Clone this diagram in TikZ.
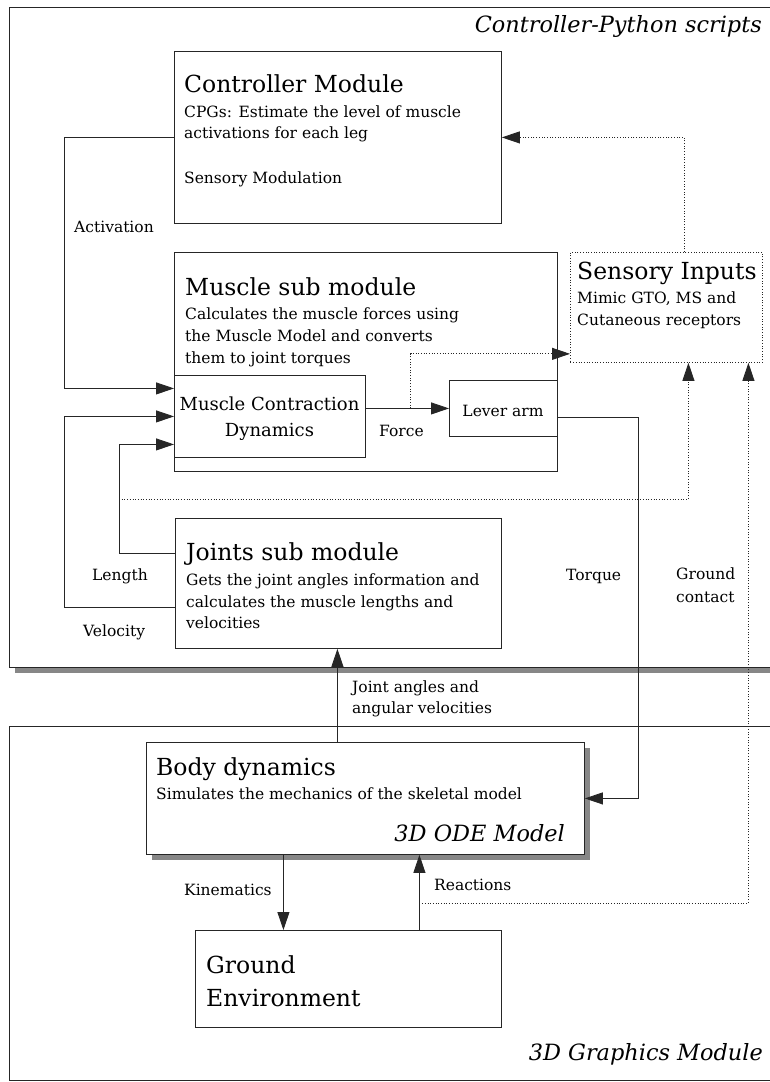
\documentclass[tikz,border=0pt]{standalone}
\usepackage{fontspec}
\setmainfont{DejaVu Serif}
\usetikzlibrary{arrows.meta,calc,shadows}
\begin{document}
\begin{tikzpicture}[x=1pt,y=-1pt,
  ln/.style={draw=black!85, line width=0.85pt},
  box/.style={ln, fill=white, rectangle, inner sep=0pt, anchor=north west},
  dbox/.style={box, dash pattern=on 1pt off 1.7pt},
  shad/.style={drop shadow={shadow xshift=6pt, shadow yshift=-6pt, fill=black!47, opacity=1}},
  arr/.style={ln, -{Triangle[length=18pt,width=12pt]}},
  dots/.style={draw=black!85, line width=0.85pt, dash pattern=on 1pt off 1.7pt},
  darr/.style={dots, -{Triangle[length=18pt,width=12pt]}},
  ttl/.style={inner sep=0pt, anchor=base west, font=\fontsize{23.5}{27}\selectfont},
  txt/.style={inner sep=0pt, anchor=base west, font=\fontsize{15.5}{19}\selectfont},
  mid/.style={inner sep=0pt, anchor=base, font=\fontsize{18}{21}\selectfont},
  itl/.style={inner sep=0pt, anchor=base east, font=\fontsize{22.4}{26}\selectfont\itshape},
]
\useasboundingbox (0,0) rectangle (770,1082);
\clip (0,0) rectangle (770,1082);

% frames
\node[box, shad, minimum width=780pt, minimum height=660pt] (pyframe) at (9,7) {};
\node[box, minimum width=780pt, minimum height=354pt] (gfxframe) at (9,726) {};
\node[itl] (pylabel) at (762,32) {Controller-Python scripts};
\node[itl] (gfxlabel) at (763,1060) {3D Graphics Module};

% boxes
\node[box, minimum width=327pt, minimum height=172pt] (ctrl) at (174,51) {};
\node[box, minimum width=383pt, minimum height=219pt] (muscle) at (174,252) {};
\node[dbox, minimum width=192pt, minimum height=110pt] (sens) at (570,252) {};
\node[box, minimum width=191pt, minimum height=82pt] (mcd) at (174,375) {};
\node[box, minimum width=108pt, minimum height=56pt] (lever) at (449,380) {};
\node[box, minimum width=326pt, minimum height=130pt] (joints) at (175,518) {};
\node[box, shad, minimum width=438pt, minimum height=112pt] (body) at (146,742) {};
\node[box, minimum width=306pt, minimum height=97pt] (ground) at (195,930) {};

% box texts
\node[ttl] (ctrlT) at (184,92) {Controller Module};
\node[txt] (ctrl1) at (184,117) {CPGs: Estimate the level of muscle};
\node[txt] (ctrl2) at (184,138) {activations for each leg};
\node[txt] (ctrl3) at (184,183) {Sensory Modulation};

\node[ttl] (muscleT) at (185,295) {Muscle sub module};
\node[txt] (muscle1) at (185,319) {Calculates the muscle forces using};
\node[txt] (muscle2) at (185,341) {the Muscle Model and converts};
\node[txt] (muscle3) at (185,363) {them to joint torques};

\node[ttl] (sensT) at (577,279) {Sensory Inputs};
\node[txt] (sens1) at (577,303) {Mimic GTO, MS and};
\node[txt] (sens2) at (577,325) {Cutaneous receptors};

\node[mid] (mcd1) at (269.5,410) {Muscle Contraction};
\node[mid] (mcd2) at (269.5,436) {Dynamics};
\node[txt, anchor=base] (leverT) at (503,416) {Lever arm};

\node[ttl] (jointsT) at (186,560) {Joints sub module};
\node[txt] (joints1) at (186,585) {Gets the joint angles information and};
\node[txt] (joints2) at (186,607) {calculates the muscle lengths and};
\node[txt] (joints3) at (186,628) {velocities};

\node[ttl] (bodyT) at (156,775) {Body dynamics};
\node[txt] (body1) at (156,799) {Simulates the mechanics of the skeletal model};
\node[itl] (bodyI) at (565,841) {3D ODE Model};

\node[ttl] (ground1) at (206,973) {Ground};
\node[ttl] (ground2) at (206,1006) {Environment};

% connector labels
\node[txt] (lAct) at (74,232) {Activation};
\node[txt] (lForce) at (379,436) {Force};
\node[txt] (lLen) at (92,580) {Length};
\node[txt] (lVel) at (83,636) {Velocity};
\node[txt] (lTor) at (566,580) {Torque};
\node[txt] (lGc1) at (676,579) {Ground};
\node[txt] (lGc2) at (676,602) {contact};
\node[txt] (lJa1) at (352,692) {Joint angles and};
\node[txt] (lJa2) at (352,713) {angular velocities};
\node[txt] (lKin) at (184,895) {Kinematics};
\node[txt] (lRea) at (434,890) {Reactions};

% helper coordinates
\coordinate (ja) at ($(body.north)+(-28,0)$);
\coordinate (kin) at ($(body.south)+(-82,0)$);
\coordinate (rea) at ($(ground.north)+(71,0)$);
\coordinate (lenx) at ($(joints.north west)+(-56,35)$);
\coordinate (fsplit) at ($(mcd.east |- lever.west)!0.54!(lever.west)$);

% connectors
\draw[arr] (ctrl.west) -- ++(-110,0) |- ($(mcd.west)+(0,-28)$);
\draw[arr] ($(joints.north west)+(0,89)$) -- ++(-111,0) |- (mcd.west);
\draw[arr] ($(joints.north west)+(0,35)$) -- (lenx) |- ($(mcd.west)+(0,28)$);
\draw[darr] ($(lenx)+(0,-54)$) -| ($(sens.south)+(22,0)$);
\draw[arr] (mcd.east |- lever.west) -- (lever.west);
\draw[darr] (fsplit) |- ($(sens.south west)+(0,-9)$);
\draw[arr] ($(lever.east)+(0,9)$) -- ++(81,0) |- (body.east);
\draw[darr] ($(sens.north)+(18,0)$) |- (ctrl.east);
\draw[arr] (ja) -- (ja |- joints.south);
\draw[arr] (kin) -- (kin |- ground.north);
\draw[arr] (rea) -- (rea |- body.south);
\draw[darr] ($(rea)+(0,-27)$) -| ($(sens.south)+(82,0)$);
\end{tikzpicture}
\end{document}
